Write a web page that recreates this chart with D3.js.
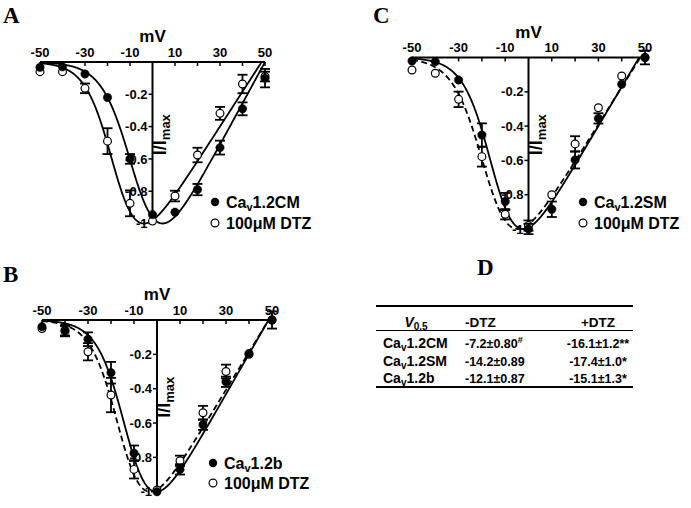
<!DOCTYPE html>
<html><head><meta charset="utf-8">
<script src="https://cdn.jsdelivr.net/npm/d3@7"></script>
<style>body{margin:0;background:#fff}svg{display:block}</style>
</head><body><svg id="c" width="691" height="508"></svg>
<script>
// ---------- data ----------
const voltages = [-50,-40,-30,-20,-10,0,10,20,30,40,50];
const xTickLabels = [-50,-30,-10,10,30,50];
const xMinorTicks = [-50,-40,-30,-20,-10,10,20,30,40,50];
const yTickLabels = [-0.2,-0.4,-0.6,-0.8,-1];

// Panel A : Cav1.2CM
const cmCtrl    = [-0.033,-0.03,-0.074,-0.22,-0.60,-0.945,-0.93,-0.79,-0.53,-0.29,-0.10];
const cmCtrlErr = [0.01,0.01,0.015,0.02,0.03,0.02,0.015,0.035,0.043,0.04,0.057];
const cmDtz     = [-0.06,-0.06,-0.163,-0.49,-0.875,-0.985,-0.83,-0.576,-0.318,-0.136,-0.09];
const cmDtzErr  = [0.01,0.01,0.03,0.08,0.08,0.02,0.033,0.045,0.04,0.057,0.03];
// Panel B : Cav1.2b
const bCtrl     = [-0.039,-0.06,-0.112,-0.307,-0.776,-1.0,-0.87,-0.61,-0.36,-0.195,0.0];
const bCtrlErr  = [0.02,0.03,0.04,0.063,0.045,0.02,0.03,0.03,0.03,0.02,0.05];
const bDtz      = [-0.05,-0.065,-0.185,-0.437,-0.87,-0.99,-0.82,-0.54,-0.30,-0.2,0.0];
const bDtzErr   = [0.02,0.03,0.05,0.10,0.053,0.02,0.03,0.04,0.04,0.02,0.02];
// Panel C : Cav1.2SM
const smCtrl    = [-0.02,-0.024,-0.131,-0.452,-0.84,-1.0,-0.885,-0.597,-0.355,-0.156,0.0];
const smCtrlErr = [0.01,0.01,0.02,0.068,0.05,0.03,0.045,0.05,0.03,0.02,0.04];
const smDtz     = [-0.073,-0.092,-0.244,-0.578,-0.914,-0.98,-0.80,-0.504,-0.293,-0.108,0.0];
const smDtzErr  = [0.025,0.01,0.045,0.058,0.03,0.03,0.02,0.045,0.02,0.01,0.02];

// Boltzmann-Ohmic fit parameters [control, DTZ]
const fitV05  = {CM:[-7.2,-16.1], SM:[-14.2,-17.4], b:[-12.1,-15.1]};
const fitK    = {CM:[6.5,6],      SM:[6,6.5],       b:[6,6]};
const fitVrev = {CM:[50,48.5],    SM:[47.5,48],     b:[48.5,48.5]};

// Table D
const tableHeader = ["V0.5","-DTZ","+DTZ"];
const tableRows   = ["1.2CM","1.2SM","1.2b"];
const tableMinus  = ["-7.2±0.80","-14.2±0.89","-12.1±0.87"];
const tableMinusSup = ["#","",""];
const tablePlus   = ["-16.1±1.2**","-17.4±1.0*","-15.1±1.3*"];

// ---------- drawing ----------
const svg = d3.select("#c");
svg.append("rect").attr("width",691).attr("height",508).attr("fill","#fff");
const SANS = "'Liberation Sans', Arial, sans-serif";
const SERIF = "'Liberation Serif', 'Times New Roman', serif";

const panels = [
  {letter:"A", lx:3, ly:23, key:"CM", ctrl:cmCtrl, ce:cmCtrlErr, dtz:cmDtz, de:cmDtzErr,
   xr:[40,265], yr:[62,223.5], dashed:false, leg:"1.2CM", legX:215, legY:[202,223]},
  {letter:"B", lx:3, ly:282, key:"b", ctrl:bCtrl, ce:bCtrlErr, dtz:bDtz, de:bDtzErr,
   xr:[42,272], yr:[320,491.7], dashed:true, leg:"1.2b", legX:213, legY:[463,483]},
  {letter:"C", lx:373, ly:23, key:"SM", ctrl:smCtrl, ce:smCtrlErr, dtz:smDtz, de:smDtzErr,
   xr:[412,645], yr:[57.5,229], dashed:true, leg:"1.2SM", legX:583, legY:[202,223]}
];

function fitCurve(vh,k,vrev){
  const vmax = Math.min(50, vrev);
  const f = v => (v - vrev)/(1+Math.exp((vh - v)/k));
  const vs = d3.range(-50, vmax, 0.25).concat([vmax]);
  const raw = vs.map(f);
  const peak = d3.min(raw);
  return vs.map((v,i)=>[v, -raw[i]/peak]);
}

panels.forEach(p=>{
  const x = d3.scaleLinear().domain([-50,50]).range(p.xr);
  const y = d3.scaleLinear().domain([0,-1]).range(p.yr);
  const g = svg.append("g");
  const ax = x(0), ay = y(0);

  // letter
  g.append("text").attr("x",p.lx).attr("y",p.ly).attr("font-family",SERIF)
   .attr("font-weight","bold").attr("font-size",23).text(p.letter);

  // x axis
  g.append("line").attr("x1",x(-50)).attr("x2",x(50)).attr("y1",ay).attr("y2",ay)
   .attr("stroke","#000").attr("stroke-width",2);
  g.selectAll(".xt").data(xMinorTicks).enter().append("line")
   .attr("x1",d=>x(d)).attr("x2",d=>x(d)).attr("y1",ay).attr("y2",ay+4)
   .attr("stroke","#000").attr("stroke-width",1.5);
  g.selectAll(".xl").data(xTickLabels).enter().append("text")
   .attr("x",d=>x(d)).attr("y",ay-5.5).attr("text-anchor","middle")
   .attr("font-family",SANS).attr("font-weight","bold").attr("font-size",13)
   .text(d=>d);
  g.append("text").attr("x",ax).attr("y",ay-20).attr("text-anchor","middle")
   .attr("font-family",SANS).attr("font-weight","bold").attr("font-size",17).text("mV");

  // y axis
  g.append("line").attr("x1",ax).attr("x2",ax).attr("y1",ay).attr("y2",y(-1))
   .attr("stroke","#000").attr("stroke-width",2);
  g.selectAll(".yt").data(yTickLabels).enter().append("line")
   .attr("x1",ax-4).attr("x2",ax).attr("y1",d=>y(d)).attr("y2",d=>y(d))
   .attr("stroke","#000").attr("stroke-width",1.5);
  g.selectAll(".yl").data(yTickLabels).enter().append("text")
   .attr("x",ax-5).attr("y",d=>y(d)+4.6).attr("text-anchor","end")
   .attr("font-family",SANS).attr("font-weight","bold").attr("font-size",13)
   .text(d=>d);
  const yl = g.append("text").attr("transform",`translate(${ax+13},${y(-0.45)}) rotate(-90)`)
   .attr("text-anchor","middle").attr("font-family",SANS).attr("font-weight","bold");
  yl.append("tspan").attr("font-size",18).text("I/I");
  yl.append("tspan").attr("font-size",13).attr("dy",4).text("max");

  // fit curves
  const line = d3.line().x(d=>x(d[0])).y(d=>y(d[1])).curve(d3.curveLinear);
  const ci = fitCurve(fitV05[p.key][0], fitK[p.key][0], fitVrev[p.key][0]);
  const di = fitCurve(fitV05[p.key][1], fitK[p.key][1], fitVrev[p.key][1]);
  g.append("path").attr("d",line(ci)).attr("fill","none").attr("stroke","#000").attr("stroke-width",1.8);
  g.append("path").attr("d",line(di)).attr("fill","none").attr("stroke","#000").attr("stroke-width",1.8)
   .attr("stroke-dasharray", p.dashed ? "6,3.5" : null);

  // error bars + points
  function series(vals, errs, filled){
    voltages.forEach((v,i)=>{
      const cx = x(v), cy = y(vals[i]);
      const e = Math.abs(y(vals[i]+errs[i]) - y(vals[i]));
      if (e > 4.5){
        g.append("line").attr("x1",cx).attr("x2",cx).attr("y1",cy-e).attr("y2",cy+e)
         .attr("stroke","#000").attr("stroke-width",1.8);
        [cy-e, cy+e].forEach(yy=>g.append("line").attr("x1",cx-5).attr("x2",cx+5)
         .attr("y1",yy).attr("y2",yy).attr("stroke","#000").attr("stroke-width",1.8));
      }
    });
    g.selectAll(null).data(voltages).enter().append("circle")
     .attr("cx",d=>x(d)).attr("cy",(d,i)=>y(vals[i])).attr("r",filled?4.2:3.9)
     .attr("fill",filled?"#000":"#fff").attr("stroke","#000").attr("stroke-width",filled?0.5:1.2);
  }
  series(p.dtz, p.de, false);
  series(p.ctrl, p.ce, true);

  // legend
  const lg = g.append("g");
  lg.append("circle").attr("cx",p.legX).attr("cy",p.legY[0]).attr("r",4.2).attr("fill","#000");
  lg.append("circle").attr("cx",p.legX).attr("cy",p.legY[1]).attr("r",3.9).attr("fill","#fff")
    .attr("stroke","#000").attr("stroke-width",1.2);
  const t1 = lg.append("text").attr("x",p.legX+11).attr("y",p.legY[0]+5.8)
    .attr("font-family",SANS).attr("font-weight","bold").attr("font-size",16);
  t1.append("tspan").text("Ca");
  t1.append("tspan").attr("font-size",11).attr("dy",3).text("v");
  t1.append("tspan").attr("dy",-3).text(p.leg);
  lg.append("text").attr("x",p.legX+11).attr("y",p.legY[1]+5.8)
    .attr("font-family",SANS).attr("font-weight","bold").attr("font-size",16).text("100μM DTZ");
});

// ---------- panel D ----------
const D = svg.append("g");
D.append("text").attr("x",477).attr("y",275).attr("font-family",SERIF)
 .attr("font-weight","bold").attr("font-size",23).text("D");
D.append("line").attr("x1",376).attr("x2",633).attr("y1",306).attr("y2",306).attr("stroke","#000").attr("stroke-width",2);
D.append("line").attr("x1",376).attr("x2",633).attr("y1",330.5).attr("y2",330.5).attr("stroke","#000").attr("stroke-width",1);
D.append("line").attr("x1",376).attr("x2",633).attr("y1",387).attr("y2",387).attr("stroke","#000").attr("stroke-width",2);

const h0 = D.append("text").attr("x",416).attr("y",326.5).attr("text-anchor","middle")
  .attr("font-family",SANS).attr("font-weight","bold").attr("font-size",14);
h0.append("tspan").attr("font-style","italic").text(tableHeader[0].slice(0,1));
h0.append("tspan").attr("font-size",10).attr("dy",3).text(tableHeader[0].slice(1));
D.append("text").attr("x",465).attr("y",326.5).attr("font-family",SANS).attr("font-weight","bold")
 .attr("font-size",13.5).text(tableHeader[1]);
D.append("text").attr("x",598).attr("y",326.5).attr("text-anchor","middle").attr("font-family",SANS)
 .attr("font-weight","bold").attr("font-size",13.5).text(tableHeader[2]);

const rowY = [348, 365.5, 382.5];
tableRows.forEach((r,i)=>{
  const t = D.append("text").attr("x",383).attr("y",rowY[i]).attr("font-family",SANS)
    .attr("font-weight","bold").attr("font-size",14);
  t.append("tspan").text("Ca");
  t.append("tspan").attr("font-size",10).attr("dy",3).text("v");
  t.append("tspan").attr("dy",-3).text(r);
  const m = D.append("text").attr("x",465).attr("y",rowY[i]).attr("font-family",SANS)
    .attr("font-weight","bold").attr("font-size",12.5);
  m.append("tspan").text(tableMinus[i]);
  if (tableMinusSup[i]) m.append("tspan").attr("font-size",9).attr("dy",-5).text(tableMinusSup[i]);
  D.append("text").attr("x",598).attr("y",rowY[i]).attr("text-anchor","middle").attr("font-family",SANS)
    .attr("font-weight","bold").attr("font-size",12.5).text(tablePlus[i]);
});
</script></body></html>
